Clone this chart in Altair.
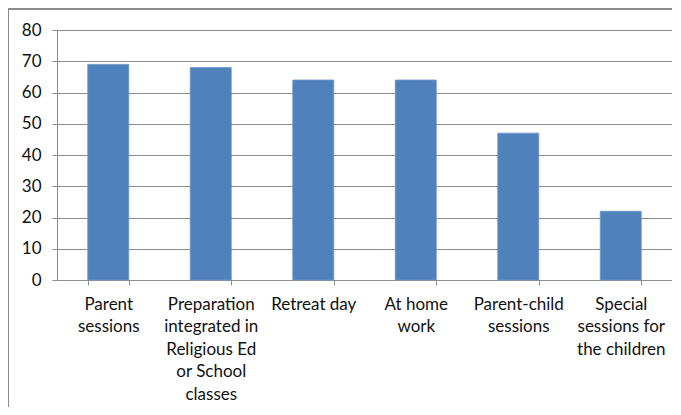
import altair as alt
import pandas as pd

categories = [
    "Parent|sessions",
    "Preparation|integrated in|Religious Ed|or School|classes",
    "Retreat day",
    "At home|work",
    "Parent-child|sessions",
    "Special|sessions for|the children",
]
values = [69, 68, 64, 64, 47, 22]

df = pd.DataFrame({"category": categories, "value": values})

FONT = "Lato"
GRAY = "#8c8c8c"

x_enc = alt.X(
    "category:N",
    sort=categories,
    scale=alt.Scale(paddingInner=0.6, paddingOuter=0.3),
    axis=alt.Axis(
        title=None,
        labelAngle=0,
        labelExpr="split(datum.label, '|')",
        labelLineHeight=22.5,
        labelFontSize=17,
        labelFont=FONT,
        labelColor="#111111",
        labelPadding=11,
        tickBand="extent",
        tickSize=5,
        tickColor=GRAY,
        domainColor=GRAY,
        labelLimit=200,
    ),
)

bars = alt.Chart(df).mark_bar(color="#4F81BD", stroke="#6c95c8", strokeWidth=0.8).encode(
    x=x_enc,
    y=alt.Y(
        "value:Q",
        scale=alt.Scale(domain=[0, 80]),
        axis=alt.Axis(
            title=None,
            values=[0, 10, 20, 30, 40, 50, 60, 70, 80],
            labelFontSize=17,
            labelFont=FONT,
            labelColor="#111111",
            labelPadding=11,
            tickSize=5,
            tickColor=GRAY,
            domainColor=GRAY,
            gridColor=GRAY,
            gridWidth=1,
        ),
    ),
)

# chart border (decoration)
border_left = alt.Chart(df).mark_rule(color=GRAY, strokeWidth=1.5, clip=False).encode(
    x=alt.value(-49), y=alt.value(-21), y2=alt.value(420)
)
border_top = alt.Chart(df).mark_rule(color=GRAY, strokeWidth=1.5, clip=False).encode(
    x=alt.value(-49), x2=alt.value(700), y=alt.value(-21)
)

chart = alt.layer(bars, border_left, border_top).properties(
    width=615,
    height=250,
    autosize=alt.AutoSizeParams(type="none"),
    padding={"left": 49, "top": 22, "right": 0, "bottom": 127},
).configure_view(stroke=None).configure(background="white")

chart.save("out.html", embed_options={"renderer": "svg", "actions": False})
